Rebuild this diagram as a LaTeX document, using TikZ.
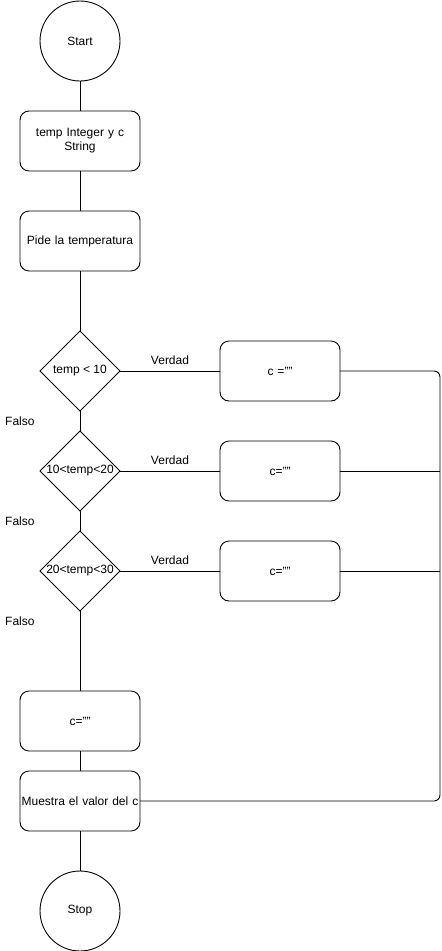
\documentclass[tikz,border=0pt]{standalone}
\usepackage{fontspec}
\setmainfont{Liberation Sans}
\usetikzlibrary{shapes.geometric, positioning}

\begin{document}
\begin{tikzpicture}[
    x=1pt, y=1pt,
    line width=0.9pt,
    font=\fontsize{12}{14}\selectfont,
    terminal/.style={circle, draw, minimum size=80pt, inner sep=0pt, outer sep=0pt},
    procbox/.style={rectangle, rounded corners=9pt, draw, minimum width=120pt,
                minimum height=60pt, text width=118pt, align=center,
                inner sep=0pt, outer sep=0pt},
    decision/.style={diamond, draw, minimum width=80pt, minimum height=80pt,
                inner sep=0pt, outer sep=0pt},
    lbl/.style={font=\fontsize{12}{14}\selectfont, inner sep=2pt},
  ]
    \useasboundingbox (0,0) rectangle (442,-951);

    % Main column
    \node[terminal] (start) at (80,-41) {Start};
    \node[procbox, below=30pt of start] (decl) {temp Integer y c\\String};
    \node[procbox, below=40pt of decl]  (ask)  {Pide la temperatura};

    % Decisions
    \node[decision, below=60pt of ask] (d1) {};
    \node[decision, below=20pt of d1]  (d2) {};
    \node[decision, below=20pt of d2]  (d3) {};
    \node at (d1) {temp < 10};
    \node at (d2) {10<temp<20};
    \node at (d3) {20<temp<30};

    % Assignments
    \node[procbox, right=100pt of d1] (r1) {c =""};
    \node[procbox, right=100pt of d2] (r2) {c=""};
    \node[procbox, right=100pt of d3] (r3) {c=""};
    \node[procbox, below=80pt of d3]  (r4) {c=""};

    % Output and end
    \node[procbox, below=20pt of r4]  (show) {Muestra el valor del c};
    \node[terminal, below=40pt of show] (stop) {Stop};

    \coordinate[right=100pt of r1.east] (rail);

    % Connectors
    \draw (start) -- (decl);
    \draw (decl)  -- (ask);
    \draw (ask)   -- (d1);
    \draw (d1) -- node[lbl, above=4pt] {Verdad} (r1);
    \draw (d2) -- node[lbl, above=4pt] {Verdad} (r2);
    \draw (d3) -- node[lbl, above=4pt] {Verdad} (r3);
    \draw (d1) -- node[lbl, left=43pt] {Falso} (d2);
    \draw (d2) -- node[lbl, left=43pt] {Falso} (d3);
    \draw (d3) -- node[lbl, pos=0.125, left=43pt] {Falso} (r4);
    \draw (r4)   -- (show);
    \draw (show) -- (stop);

    % Return rail
    \draw[rounded corners=6pt] (r1.east) -| (rail |- show.east) -- (show.east);
    \draw (r2.east) -- (r2.east -| rail);
    \draw (r3.east) -- (r3.east -| rail);
  \end{tikzpicture}
\end{document}
